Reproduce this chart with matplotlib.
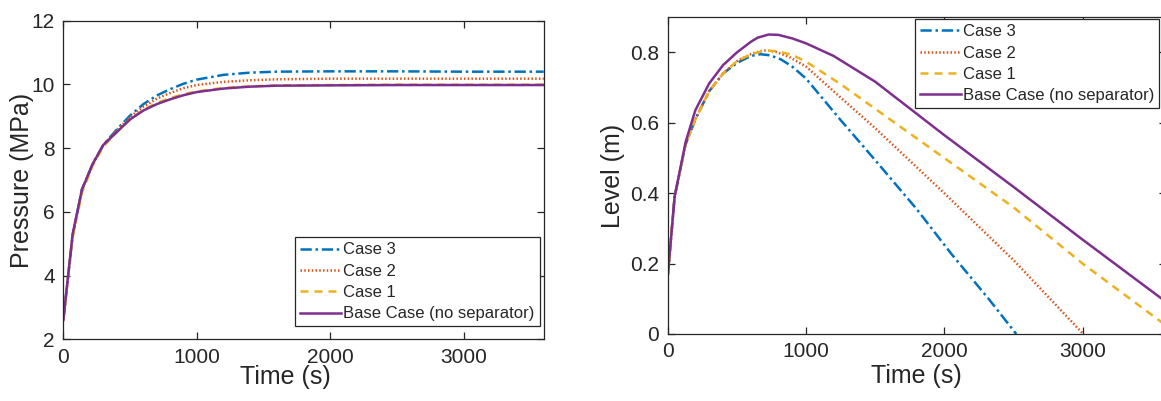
import numpy as np
import matplotlib
matplotlib.use('Agg')
import matplotlib.pyplot as plt

# MATLAB default line colours
C3, C2, C1, CB = '#0072BD', '#D95319', '#EDB120', '#7E2F8E'
labels = ['Case 3', 'Case 2', 'Case 1', 'Base Case (no separator)']

# pressure (MPa) vs time (s)
t_p = [0, 70, 140, 220, 300, 400, 500, 600, 700, 800, 900, 1000, 1200, 1400, 1600, 2000, 2500, 3000, 3600]
p_base = [2.6, 5.3, 6.7, 7.5, 8.1, 8.5, 8.9, 9.18, 9.38, 9.53, 9.66, 9.76, 9.87, 9.93, 9.96, 9.97, 9.98, 9.98, 9.98]
p_case1 = [2.6, 5.2, 6.6, 7.45, 8.05, 8.5, 8.9, 9.2, 9.42, 9.57, 9.69, 9.78, 9.89, 9.94, 9.97, 9.98, 9.99, 9.99, 9.99]
p_case2 = [2.6, 5.25, 6.7, 7.5, 8.1, 8.55, 8.97, 9.3, 9.55, 9.73, 9.88, 9.98, 10.08, 10.13, 10.16, 10.18, 10.18, 10.18, 10.18]
p_case3 = [2.6, 5.25, 6.7, 7.5, 8.1, 8.58, 9.02, 9.38, 9.65, 9.85, 10.02, 10.15, 10.3, 10.37, 10.4, 10.41, 10.41, 10.4, 10.4]

# level (m) vs time (s)
t_lb = [0, 50, 130, 200, 300, 400, 500, 600, 650, 730, 800, 900, 1000, 1200, 1500, 2000, 2500, 3000, 3600]
l_base = [0.163, 0.39, 0.546, 0.636, 0.712, 0.764, 0.80, 0.83, 0.842, 0.851, 0.85, 0.84, 0.826, 0.79, 0.717, 0.565, 0.418, 0.268, 0.092]
t_l1 = [0, 50, 130, 200, 300, 400, 500, 600, 680, 737, 800, 900, 1000, 1250, 1500, 2000, 2500, 3000, 3600]
l_case1 = [0.163, 0.39, 0.54, 0.61, 0.69, 0.74, 0.775, 0.795, 0.803, 0.805, 0.803, 0.793, 0.774, 0.71, 0.64, 0.50, 0.36, 0.20, 0.025]
t_l2 = [0, 50, 130, 200, 300, 400, 500, 600, 660, 710, 780, 880, 1000, 1250, 1500, 2000, 2500, 3005]
l_case2 = [0.163, 0.39, 0.54, 0.61, 0.69, 0.74, 0.775, 0.795, 0.803, 0.806, 0.802, 0.787, 0.76, 0.672, 0.585, 0.40, 0.21, 0.0]
t_l3 = [0, 50, 130, 200, 300, 400, 500, 600, 670, 740, 820, 900, 1000, 1250, 1500, 1800, 2050, 2320, 2520]
l_case3 = [0.163, 0.39, 0.54, 0.61, 0.69, 0.74, 0.77, 0.79, 0.795, 0.792, 0.78, 0.76, 0.726, 0.608, 0.494, 0.355, 0.228, 0.1, 0.0]

plt.rcParams['font.family'] = ['Liberation Sans', 'DejaVu Sans']
TXT = '#262626'
LW = 1.8

def style(ax):
  for s in ax.spines.values():
    s.set_color(TXT)
    s.set_linewidth(0.9)
  ax.tick_params(direction='in', top=True, right=True, length=5, width=0.9,
                 color=TXT, labelcolor=TXT, labelsize=15, pad=6)

def draw(ax, series):
  for (x, y, c, st), lab in zip(series, labels):
    ln, = ax.plot(x, y, color=c, lw=LW, label=lab)
    if st == 'dd':
      ln.set_dashes([3.2, 2.4])
    elif st == 'dot':
      ln.set_dashes([0.6, 0.9])
    elif st == 'dash-dot':
      ln.set_dashes([4.5, 1.5, 1.0, 1.5])

def legend(ax, x, y):
  lg = ax.legend(loc='upper left', bbox_to_anchor=(x, y), borderaxespad=0,
                 fontsize=12, handlelength=2.45, handletextpad=0.12,
                 labelspacing=0.38, borderpad=0.3, fancybox=False,
                 framealpha=1, edgecolor=TXT)
  lg.get_frame().set_linewidth(0.9)
  for t in lg.get_texts():
    t.set_color(TXT)

fig = plt.figure(figsize=(11.61, 4.01), dpi=100)

ax1 = fig.add_axes([0.0545, 0.1539, 0.4138, 0.7945])
draw(ax1, [(t_p, p_case3, C3, 'dash-dot'), (t_p, p_case2, C2, 'dot'),
           (t_p, p_case1, C1, 'dd'), (t_p, p_base, CB, 'solid')])
ax1.set_xlim(0, 3600)
ax1.set_ylim(2, 12)
ax1.set_xticks([0, 1000, 2000, 3000])
ax1.set_yticks([2, 4, 6, 8, 10, 12])
ax1.set_xlabel('Time (s)', fontsize=18, color=TXT, labelpad=-1)
ax1.xaxis.label.set_x(0.4615)
ax1.set_ylabel('Pressure (MPa)', fontsize=18, color=TXT, labelpad=-2)
style(ax1)
legend(ax1, 0.483, 0.320)

ax2 = fig.add_axes([0.5751, 0.1671, 0.4289, 0.7898])
draw(ax2, [(t_l3, l_case3, C3, 'dash-dot'), (t_l2, l_case2, C2, 'dot'),
           (t_l1, l_case1, C1, 'dd'), (t_lb, l_base, CB, 'solid')])
ax2.set_xlim(0, 3600)
ax2.set_ylim(0, 0.9)
ax2.set_xticks([0, 1000, 2000, 3000])
ax2.set_yticks([0, 0.2, 0.4, 0.6, 0.8])
ax2.set_yticklabels(['0', '0.2', '0.4', '0.6', '0.8'])
ax2.set_xlabel('Time (s)', fontsize=18, color=TXT, labelpad=2)
ax2.set_ylabel('Level (m)', fontsize=18, color=TXT, labelpad=4)
style(ax2)
legend(ax2, 0.497, 0.9937)

fig.savefig('out.png', dpi=100)
